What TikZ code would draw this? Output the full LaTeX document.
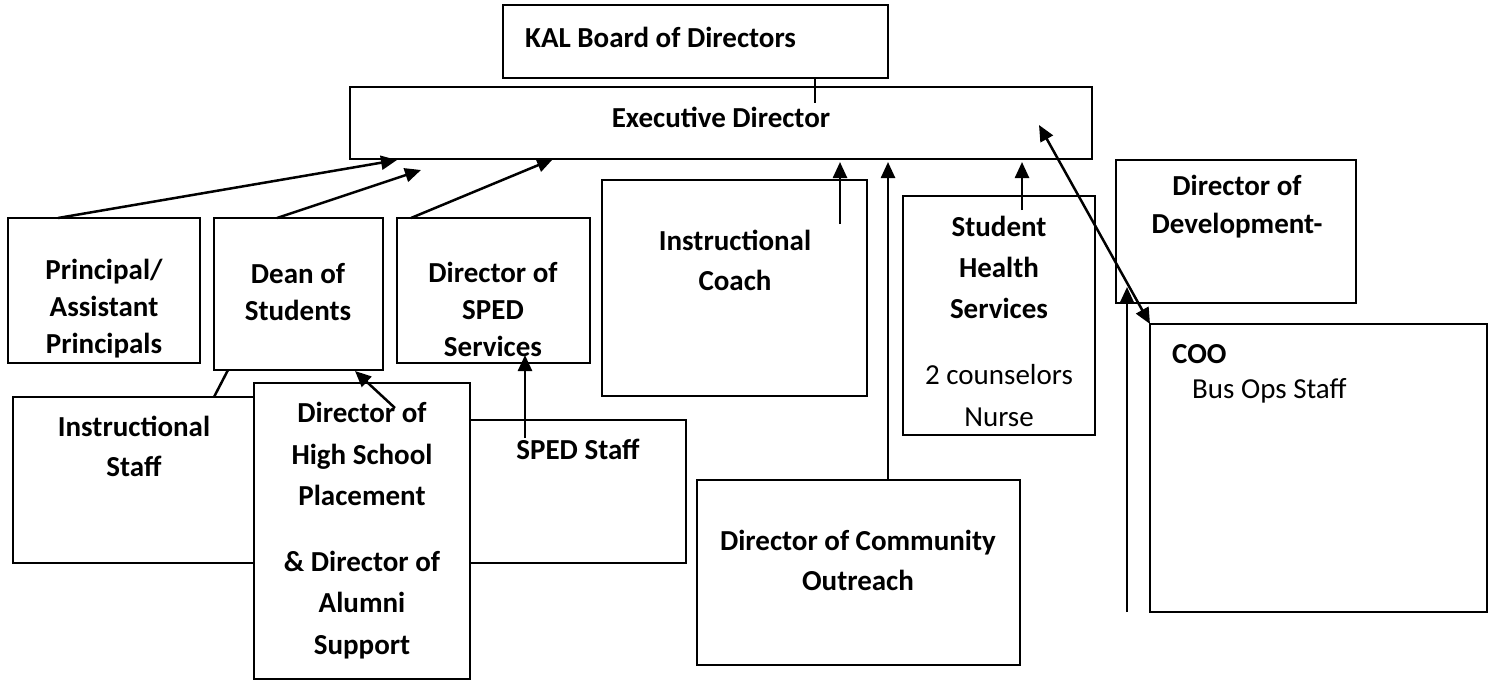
\documentclass[tikz,border=0pt]{standalone}
\usepackage{fontspec}
\setmainfont{Carlito}
\usetikzlibrary{arrows.meta,calc}
\begin{document}
\begin{tikzpicture}[x=1pt,y=-1pt,
 box/.style={draw=black,line width=2pt,fill=white,inner sep=0pt,outer sep=0pt,anchor=north west},
 lbl/.style={font=\fontsize{29}{37}\selectfont\bfseries,align=center,inner sep=0pt},
 reg/.style={font=\fontsize{29}{42}\selectfont,align=center,inner sep=0pt},
 arr/.style={line width=2.5pt,-{Triangle[length=16pt,width=14pt]}},
 darr/.style={line width=2.5pt,{Triangle[length=16pt,width=14pt]}-{Triangle[length=16pt,width=14pt]}},
 ln/.style={line width=2.5pt}]
\useasboundingbox (0,0) rectangle (1494,680);
% boxes
\node[box,minimum width=385pt,minimum height=73pt] (kal) at (503,5) {};
\node[box,minimum width=742pt,minimum height=72pt] (exec) at (350,87) {};
\node[box,minimum width=192pt,minimum height=145pt] (prin) at (8,218) {};
\node[box,minimum width=169pt,minimum height=152pt] (dean) at (214,218) {};
\node[box,minimum width=193pt,minimum height=145pt] (sped) at (397,218) {};
\node[box,minimum width=265pt,minimum height=216pt] (coach) at (602,180) {};
\node[box,minimum width=192pt,minimum height=239pt] (health) at (903,196) {};
\node[box,minimum width=240pt,minimum height=143pt] (dev) at (1116,160) {};
\node[box,minimum width=337pt,minimum height=288pt] (coo) at (1150,324) {};
\node[box,minimum width=387pt,minimum height=166pt] (istaff) at (13,397) {};
\node[box,minimum width=386pt,minimum height=143pt] (spstaff) at (300,420) {};
\node[box,minimum width=216pt,minimum height=296pt] (hs) at (254,383) {};
\node[box,minimum width=323pt,minimum height=185pt] (outreach) at (697,480) {};
% texts
\node[lbl,anchor=west] (tkal) at (525,37) {KAL Board of Directors};
\node[lbl] (texec) at (721,117) {Executive Director};
\node[lbl] (tprin) at (104,309) {Principal/\\Assistant\\Principals};
\node[lbl] (tdean) at (298,292) {Dean of\\Students};
\node[lbl] (tsped) at (493,309) {Director of\\SPED\\Services};
\node[lbl,font=\fontsize{29}{40}\selectfont\bfseries] (tcoach) at (735,260) {Instructional\\Coach};
\node[lbl,font=\fontsize{29}{41}\selectfont\bfseries] (thealth) at (999,267) {Student\\Health\\Services};
\node[reg] (thealth2) at (999,396) {2 counselors\\Nurse};
\node[lbl,font=\fontsize{29}{38}\selectfont\bfseries] (tdev) at (1237,207) {Director of\\Development-};
\node[lbl,anchor=west] (tcoo) at (1172,354) {COO};
\node[reg,anchor=west] (tcoo2) at (1192,391) {Bus Ops Staff};
\node[lbl,font=\fontsize{29}{40}\selectfont\bfseries] (tistaff) at (134,446) {Instructional\\Staff};
\node[lbl,font=\fontsize{29}{41.5}\selectfont\bfseries] (ths) at (362,454) {Director of\\High School\\Placement};
\node[lbl,font=\fontsize{29}{41.5}\selectfont\bfseries] (ths2) at (362,605) {\& Director of\\Alumni\\Support};
\node[lbl] (tspstaff) at (578,449) {SPED Staff};
\node[lbl,font=\fontsize{29}{40}\selectfont\bfseries] (toutreach) at (858,560) {Director of Community\\Outreach};
% connectors
\draw[ln] ($(kal.south west)+(312,0)$) -- ($(exec.north west)+(465,16)$);
\draw[arr] ($(prin.north west)+(50,0)$) -- ($(exec.south west)+(47,1)$);
\draw[arr] ($(dean.north west)+(63,0)$) -- ($(exec.south west)+(71,11)$);
\draw[arr] ($(sped.north west)+(14,0)$) -- ($(exec.south west)+(203,0)$);
\draw[arr] ($(coach.north west)+(238,44)$) -- ($(exec.south west)+(490,3)$);
\draw[arr] ($(outreach.north west)+(191,0)$) -- ($(exec.south west)+(538,3)$);
\draw[arr] ($(health.north west)+(119,14)$) -- ($(exec.south west)+(672,3)$);
\draw[darr] ($(exec.south west)+(689,-34)$) -- (coo.north west);
\draw[arr] ($(coo.south west)+(-23,0)$) -- ($(dev.south west)+(11,-16)$);
\draw[ln] ($(dean.south west)+(14,0)$) -- ($(istaff.north west)+(201,0)$);
\draw[arr] ($(hs.north west)+(141,25)$) -- ($(dean.south west)+(141,1)$);
\draw[arr] ($(spstaff.north west)+(225,18)$) -- ($(sped.south west)+(128,-8)$);
\end{tikzpicture}
\end{document}
